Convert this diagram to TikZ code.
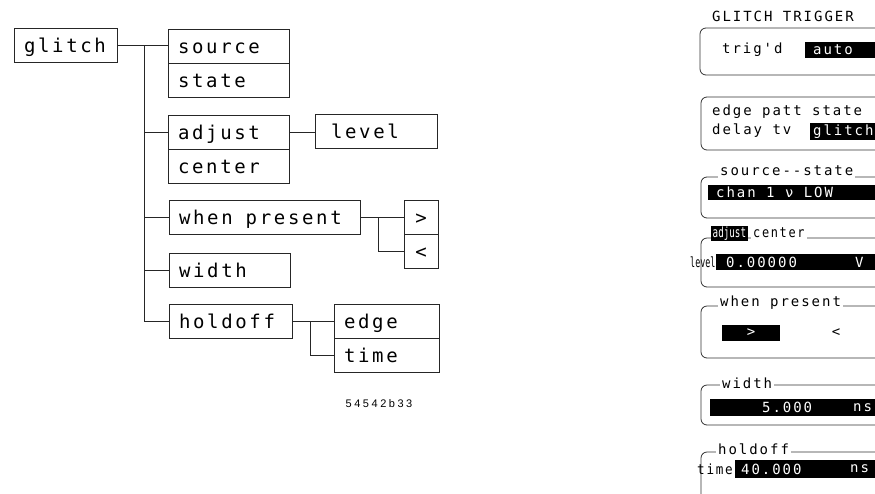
\documentclass[tikz,border=0pt]{standalone}
\usepackage{fontspec}
\usepackage{graphicx}
\newfontfamily\plotfont[LetterSpace=14]{DejaVu Sans Mono}
\newfontfamily\scrfont[LetterSpace=14]{DejaVu Sans Mono}
\newfontfamily\scrnarrow{DejaVu Sans Mono}
\newfontfamily\labfont[LetterSpace=23]{Liberation Sans}
\tikzset{
  lbox/.style={draw=black!85, line width=0.8pt, inner xsep=10pt, inner ysep=0pt,
    align=left, minimum height=34pt, text height=14.6pt, text depth=0pt,
    font=\plotfont\fontsize{19}{19}\selectfont},
  sbox/.style={lbox, align=center, inner xsep=0pt, minimum width=34pt, text width=34pt},
  conn/.style={draw=black!85, line width=0.8pt},
  scr/.style={draw=black!80, line width=0.8pt, rounded corners=6pt},
  stxt/.style={font=\scrfont\fontsize{14}{14}\selectfont, inner sep=0pt, anchor=west},
  ntxt/.style={stxt, font=\scrnarrow\fontsize{14}{14}\selectfont},
  sttl/.style={stxt, fill=white, inner xsep=2pt, inner ysep=1.5pt},
  wtxt/.style={stxt, text=white},
  bar/.style={fill=black}
}
\begin{document}
\begin{tikzpicture}[x=1pt,y=-1pt]
\useasboundingbox (0,0) rectangle (875,493);
\fill[white] (0,0) rectangle (875,493);
% ---------------- left menu tree ----------------
\node[lbox, text width=83pt]  (glitch) at (65.5,45.5) {glitch};
\node[lbox, text width=101pt] (source) at (228.5,46) {source};
\node[lbox, text width=101pt] (state) at (228.5,80) {state};
\node[lbox, text width=101pt] (adjust) at (228.5,132) {adjust};
\node[lbox, text width=101pt] (center) at (228.5,166) {center};
\node[lbox, text width=102pt] (level) at (376,131.5) {\hspace*{6pt}level};
\node[lbox, text width=171pt] (whenpresent) at (264.5,217.5) {when\hspace{13pt}present};
\node[sbox] (gt) at (421,217.5) {>};
\node[sbox] (lt) at (421,251.5) {<};
\node[lbox, text width=101pt] (width) at (229.5,270) {width};
\node[lbox, text width=103pt] (holdoff) at (230.5,321.5) {holdoff};
\node[lbox, text width=85pt] (edge) at (386.5,321.5) {edge};
\node[lbox, text width=85pt] (time) at (386.5,355.5) {time};

\coordinate (tr) at (144,45.5);
\coordinate (wj) at (378,217.5);
\coordinate (hj) at (310,321.5);
\draw[conn] (glitch.east) -- (glitch.east -| source.west);
\draw[conn] (tr) |- (adjust.west);
\draw[conn] (tr) |- (whenpresent.west);
\draw[conn] (tr) |- (width.west);
\draw[conn] (tr) |- (holdoff.west);
\draw[conn] (adjust.east) -- (adjust.east -| level.west);
\draw[conn] (whenpresent.east) -- (gt.west);
\draw[conn] (wj) |- (lt.west);
\draw[conn] (holdoff.east) -- (edge.west);
\draw[conn] (hj) |- (time.west);

\node[font=\labfont\fontsize{11}{11}\selectfont] (code) at (379,404) {54542b33};

% ---------------- right screen panel ----------------
\begin{scope}
\clip (0,0) rectangle (875,493);
\node[stxt] (ttl) at (712,16.5) {GLITCH TRIGGER};
% box 1
\draw[scr] (700,28) rectangle (900,75);
\node[stxt] (trigd) at (722,50) {trig'd};
\fill[bar] (805,42) rectangle (900,58);
\node[wtxt] (auto) at (813,50) {auto};
% box 2
\draw[scr] (701,97) rectangle (900,150);
\node[stxt] (edgepatt) at (712,112) {edge patt state};
\node[stxt] (delaytv) at (712,131) {delay tv};
\fill[bar] (810,123) rectangle (900,140);
\node[wtxt] (glitchsel) at (813,131.5) {glitch};
% box 3
\draw[scr] (701,177) rectangle (900,218);
\node[sttl] (srcttl) at (718,171) {source{-}{-}state};
\fill[bar] (708,185) rectangle (900,200);
\node[wtxt] (chan) at (716,192.5) {chan 1 ν LOW};
% box 4
\draw[scr] (701,238) rectangle (900,287);
\fill[bar] (711,226) rectangle (748,241);
\node[ntxt, text=white] (adjsel) at (712.5,233.5) {\scalebox{0.66}[1]{adjust}};
\node[sttl, anchor=base west] (centxt) at (751,237.5) {\scalebox{0.85}[1]{center}};
\node[ntxt] (lvl) at (690,262) {\scalebox{0.6}[1]{level}};
\fill[bar] (716,254) rectangle (900,270);
\node[wtxt] (lvlval) at (726,262) {0.00000};
\node[wtxt] (lvlunit) at (855,262) {V};
% box 5
\draw[scr] (701,306) rectangle (900,358);
\node[sttl] (wpttl) at (718,303) {when present};
\fill[bar] (722,325) rectangle (780,341);
\node[wtxt, anchor=center] (gtsel) at (751,333) {>};
\node[stxt, anchor=center] (ltsel) at (836,333) {<};
% box 6
\draw[scr] (701,385) rectangle (900,425);
\node[sttl] (wdttl) at (720,383) {width};
\fill[bar] (710,399) rectangle (900,416);
\node[wtxt] (wdval) at (762,407.5) {5.000};
\node[wtxt] (wdunit) at (853,407.5) {ns};
% box 7
\draw[scr] (701,452) rectangle (900,515);
\node[sttl] (hdttl) at (716,449) {holdoff};
\node[stxt] (tmtxt) at (697,469) {\scalebox{0.9}[1]{time}};
\fill[bar] (735,460) rectangle (900,478);
\node[wtxt] (tmval) at (741,469) {40.000};
\node[wtxt] (tmunit) at (850,469) {ns};
\end{scope}
\end{tikzpicture}
\end{document}
